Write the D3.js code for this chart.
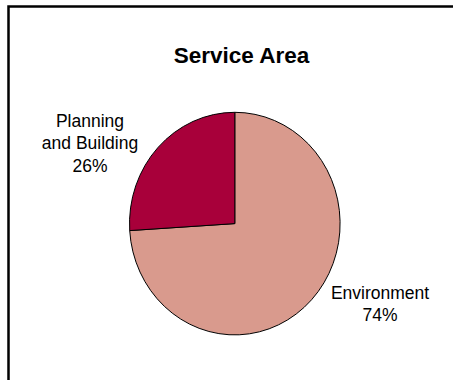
<!DOCTYPE html>
<html>
<head>
<meta charset="utf-8">
<script src="https://cdn.jsdelivr.net/npm/d3@7"></script>
<style>
  html, body { margin: 0; padding: 0; background: #fff; }
  svg { display: block; }
</style>
</head>
<body>
<script>
// Service area shares
const categories = ["Environment", "Planning and Building"];
const values = [74, 26];
const labelLines = [["Environment", "74%"], ["Planning", "and Building", "26%"]];
const colors = ["#D99A8D", "#A8003A"];

const W = 453, H = 380;
const svg = d3.select("body").append("svg")
  .attr("width", W).attr("height", H);

// Frame: top and left edges
svg.append("path")
  .attr("d", `M8.5,${H} L8.5,6.5 L${W},6.5`)
  .attr("fill", "none")
  .attr("stroke", "#000")
  .attr("stroke-width", 2.5);

svg.append("text")
  .attr("x", 241.5).attr("y", 63)
  .attr("text-anchor", "middle")
  .attr("font-family", "Liberation Sans, Arial, sans-serif")
  .attr("font-weight", "bold")
  .attr("font-size", 22.5)
  .text("Service Area");

const cx = 234.8, cy = 223.6, r = 105.3, sy = 1.057;

const pie = d3.pie().sort(null).value(d => d)(values);
const arc = d3.arc().innerRadius(0).outerRadius(r);

const g = svg.append("g")
  .attr("transform", `translate(${cx},${cy}) scale(1,${sy})`);

g.selectAll("path")
  .data(pie)
  .join("path")
  .attr("d", arc)
  .attr("fill", (d, i) => colors[i])
  .attr("stroke", "#000")
  .attr("stroke-width", 1)
  .attr("vector-effect", "non-scaling-stroke");

// Label positions, outside the slices
const labelPos = [
  { x: 380, y: 299 },
  { x: 90, y: 126.7 }
];
const lineGap = 22.4;

pie.forEach((d, i) => {
  const t = svg.append("text")
    .attr("text-anchor", "middle")
    .attr("font-family", "Liberation Sans, Arial, sans-serif")
    .attr("font-size", 17.5)
    .attr("fill", "#000");
  labelLines[i].forEach((line, k) => {
    t.append("tspan")
      .attr("x", labelPos[i].x)
      .attr("y", labelPos[i].y + k * lineGap)
      .text(line);
  });
});
</script>
</body>
</html>
